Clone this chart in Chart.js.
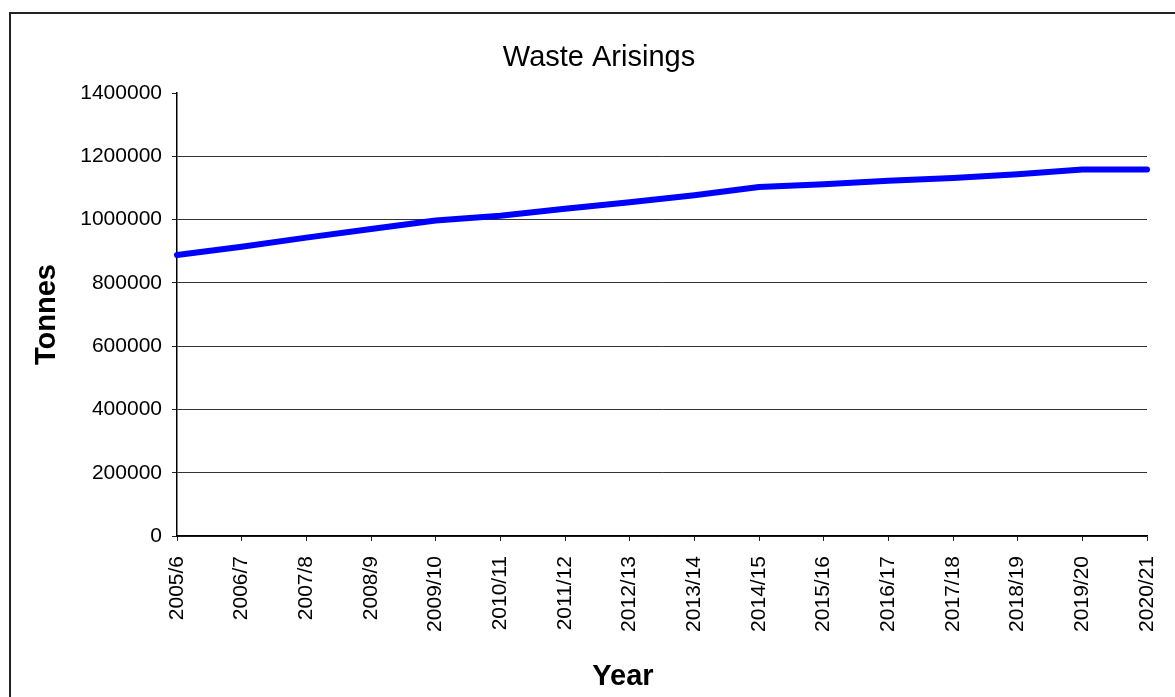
<!DOCTYPE html>
<html>
<head>
<meta charset="utf-8">
<title>Waste Arisings</title>
<script src="https://cdn.jsdelivr.net/npm/chart.js"></script>
<style>
  html, body { margin: 0; padding: 0; background: #fff; overflow: hidden; }
  #wrap { position: relative; width: 1175px; height: 697px; }
  /* outer frame of the original chart object: only top + left edges are visible */
  #frame {
    position: absolute; left: 9px; top: 12px; width: 1200px; height: 720px;
    border-left: 2px solid #222; border-top: 2px solid #222;
  }
  #chart { position: absolute; left: 0; top: 0; }
</style>
</head>
<body>
<div id="wrap">
  <div id="frame"></div>
  <canvas id="chart" width="1175" height="697"></canvas>
</div>
<script>
// ---------- data ----------
const years = [
  '2005/6', '2006/7', '2007/8', '2008/9', '2009/10', '2010/11', '2011/12', '2012/13',
  '2013/14', '2014/15', '2015/16', '2016/17', '2017/18', '2018/19', '2019/20', '2020/21'
];
const tonnes = [
  888000, 914000, 943000, 970000, 997000, 1012000, 1034000, 1055000,
  1077000, 1103000, 1112000, 1123000, 1131000, 1143000, 1158000, 1158000
];
const yTicks = [0, 200000, 400000, 600000, 800000, 1000000, 1200000, 1400000];

const chartTitle = 'Waste Arisings';
const xTitle = 'Year';
const yTitle = 'Tonnes';

const FONT = '"Liberation Sans", Arial, sans-serif';

// ---------- title + x axis title (placed like the original, not centred on the plot) ----------
const extraText = {
  id: 'extraText',
  afterDraw(chart) {
    const ctx = chart.ctx;
    ctx.save();
    ctx.fillStyle = '#000';
    ctx.textAlign = 'center';
    ctx.textBaseline = 'alphabetic';
    ctx.font = '29px ' + FONT;
    ctx.fillText(chartTitle, 599, 66);
    ctx.font = 'bold 29px ' + FONT;
    ctx.fillText(xTitle, 623, 685);
    ctx.restore();
  }
};

const ctx = document.getElementById('chart').getContext('2d');
new Chart(ctx, {
  type: 'line',
  data: {
    labels: years,
    datasets: [{
      label: 'Tonnes',
      data: tonnes,
      borderColor: '#0000ff',
      backgroundColor: '#0000ff',
      borderWidth: 6,
      borderCapStyle: 'round',
      borderJoinStyle: 'round',
      pointRadius: 0,
      tension: 0,
      fill: false
    }]
  },
  options: {
    responsive: false,
    animation: false,
    layout: { padding: { left: 0, right: 28, top: 93, bottom: 0 } },
    plugins: {
      legend: { display: false },
      tooltip: { enabled: false },
      title: { display: false }
    },
    scales: {
      x: {
        offset: false,
        grid: {
          display: true,
          drawOnChartArea: false,
          drawTicks: true,
          tickLength: 5,
          tickColor: '#222'
        },
        border: { display: true, color: '#000', width: 1.5 },
        ticks: {
          autoSkip: false,
          minRotation: 90,
          maxRotation: 90,
          padding: 15,
          color: '#000',
          font: { family: FONT, size: 21 }
        },
        afterFit(scale) {
          scale.height = 697 - 536;
          scale.paddingLeft = 0;
          scale.paddingRight = 0;
        }
      },
      y: {
        min: 0,
        max: 1400000,
        afterBuildTicks(scale) {
          scale.ticks = yTicks.map(v => ({ value: v }));
        },
        grid: {
          color: c => (c.tick && c.tick.value === 1400000) ? 'rgba(0,0,0,0)' : '#333',
          lineWidth: 1,
          drawTicks: true,
          tickLength: 5,
          tickColor: '#222'
        },
        border: { display: true, color: '#000', width: 1.5 },
        ticks: {
          padding: 10,
          color: '#000',
          font: { family: FONT, size: 21 },
          callback: v => String(v)
        },
        title: {
          display: true,
          text: yTitle,
          color: '#000',
          font: { family: FONT, size: 29, weight: 'bold' },
          padding: { top: 30, bottom: 0 }
        },
        afterFit(scale) {
          scale.width = 177;
          scale.paddingTop = 0;
          scale.paddingBottom = 0;
        }
      }
    }
  },
  plugins: [extraText]
});
</script>
</body>
</html>
